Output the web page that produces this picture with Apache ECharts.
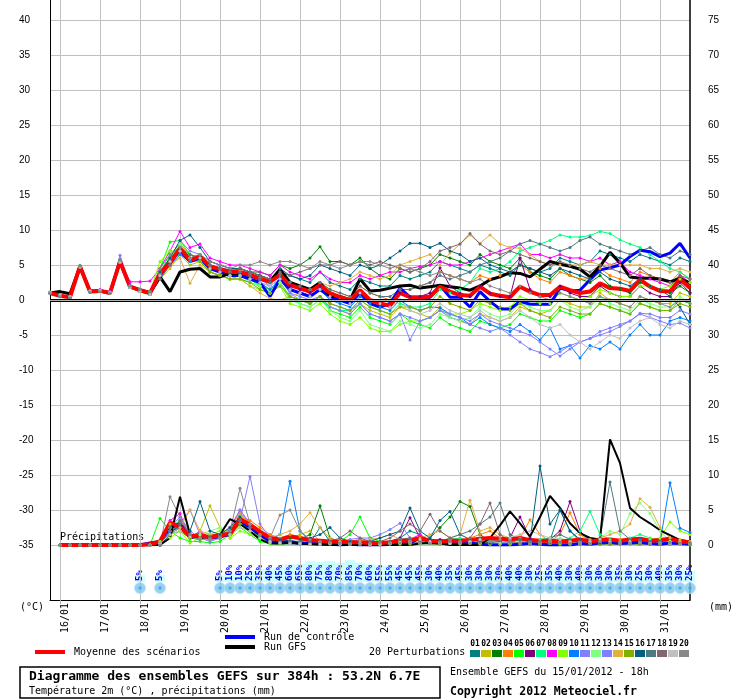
<!DOCTYPE html>
<html>
<head>
<meta charset="utf-8">
<script src="https://cdn.jsdelivr.net/npm/echarts@6/dist/echarts.min.js"></script>
<style>
html, body { margin: 0; padding: 0; background: #fff; }
#chart { width: 740px; height: 700px; }
</style>
</head>
<body>
<div id="chart"></div>
<script>
// GEFS ensemble 15/01/2012 18h, 6-hourly steps up to +384h
var dayLabels = ['16/01', '17/01', '18/01', '19/01', '20/01', '21/01', '22/01', '23/01',
    '24/01', '25/01', '26/01', '27/01', '28/01', '29/01', '30/01', '31/01'];
var hours = ['00h', '06h', '12h', '18h'];

var memberColors = ['#008080', '#c0c000', '#008000', '#ff8000', '#00ff00', '#800080', '#00ff80',
    '#ff00ff', '#80ff00', '#0080ff', '#8080ff', '#80ff80', '#8080ff', '#e0b040', '#80b000',
    '#006080', '#507880', '#806870', '#c0c0c0', '#888888'];

// temperature 2m (°C)
var tMean = [1.0,0.6,0.4,4.8,1.2,1.3,1.0,5.5,1.9,1.4,1.0, 3.8,5.3,7.4,5.7,6.2,4.8, 4.4,4.0,4.0,3.6,3.1,2.6,3.6,2.1, 1.7,1.2,2.1,1.0,0.4,0.0,1.4,0.0, -0.5,-0.8,1.0,0.4,0.4,0.5,1.9,1.2, 0.7,0.6,1.9,0.9,0.6,0.4,1.9,1.2, 0.7,0.7,1.9,1.4,1.0,1.2,2.4,1.7, 1.6,1.3,2.9,1.9,1.3,1.2,3.0,1.7];
var tCtrl = [1.0,0.6,0.4,4.8,1.2,1.3,1.0,5.5,1.9,1.4,1.0, 3.5,5.5,7.0,5.5,6.0,4.5, 4.0,3.5,3.5,3.0,2.5,0.5,3.0,1.5, 1.0,0.5,1.5,0.5,0.0,-0.5,1.0,-0.5, -1.0,-0.5,1.7,0.4,0.3,0.4,2.1,0.4, 0.4,-1.0,1.2,-0.2,-1.3,-1.3,-0.2,-0.6, -0.6,-0.6,1.7,1.3,1.4,2.9,4.3,4.6, 5.0,6.2,7.1,6.9,6.2,6.7,8.1,6.0];
var tGfs = [1.0,1.2,0.9,4.8,1.2,1.3,1.0,5.5,1.9,1.4,1.0, 3.3,1.2,4.0,4.4,4.5,3.3, 3.3,3.8,3.8,3.5,3.0,2.6,4.4,2.5, 2.0,1.5,2.5,0.5,0.5,0.0,3.0,1.3, 1.4,1.7,2.0,2.1,1.7,1.9,2.1,1.9, 1.7,1.4,2.0,2.9,3.3,3.9,3.8,3.3, 4.4,5.5,5.1,4.8,4.4,3.3,4.8,6.8, 5.3,3.3,3.1,3.1,3.0,2.6,3.1,2.4];
var t01 = [1.0,0.6,0.4,4.8,1.2,1.3,1.0,5.5,1.9,1.4,1.0, 3.5,5.0,7.0,6.0,6.5,5.0, 4.6,4.3,4.5,4.0,3.5,3.0,4.5,3.5, 3.0,2.5,4.0,2.5,2.0,1.5,3.0,2.5, 2.0,2.0,3.5,3.0,3.5,4.0,5.5,5.0, 4.5,4.0,5.0,4.5,4.0,3.5,5.0,4.5, 4.0,4.5,6.0,5.5,5.0,5.5,7.0,6.5, 6.0,5.5,6.5,6.0,5.5,5.0,6.0,5.5];
var t02 = [1.1,0.7,0.5,4.7,1.3,1.4,1.1,5.4,1.8,1.2,0.8, 3.0,4.5,6.5,5.0,5.5,4.5, 4.0,3.5,3.5,3.0,2.0,1.5,2.5,0.5, 0.0,-0.5,0.5,-1.0,-1.5,-2.0,-0.5,-1.5, -2.0,-2.5,-1.0,-1.5,-2.0,-2.5,-1.0,-2.5, -3.0,-3.5,-2.0,-2.5,-3.0,-2.5,-1.0,-1.5, -2.0,-1.5,0.0,-0.5,-1.0,-1.0,1.0,0.0, -0.5,-1.0,0.5,0.0,-0.5,-0.5,1.0,0.5];
var t03 = [1.0,0.5,0.3,4.9,1.1,1.2,1.0,5.7,2.0,1.5,1.2, 4.0,6.0,7.5,6.0,6.0,4.5, 4.5,4.0,4.5,4.0,4.0,3.5,5.0,4.5, 5.0,6.0,7.6,5.5,5.5,5.0,6.0,4.5, 3.5,3.0,4.5,4.0,4.5,5.0,6.5,6.0, 5.5,5.0,6.5,5.5,5.0,4.5,6.0,4.0, 3.5,3.0,4.5,3.5,3.0,2.5,3.5,2.0, 1.5,1.0,2.5,2.0,1.5,1.0,2.0,1.0];
var t04 = [1.0,0.6,0.4,4.8,1.2,1.3,1.0,5.6,1.9,1.4,1.0, 3.8,5.5,8.0,6.5,6.0,5.0, 4.5,4.0,4.2,3.8,3.2,2.5,3.8,2.5, 2.0,1.5,2.5,1.5,1.0,0.5,2.0,1.0, 0.5,0.0,1.5,1.5,2.0,2.5,4.0,3.5, 3.0,2.5,3.5,3.0,3.5,4.0,5.0,4.0, 3.0,2.5,4.0,3.5,3.0,3.0,4.5,3.5, 3.0,2.5,4.0,3.5,3.0,2.5,4.0,3.0];
var t05 = [1.1,0.7,0.5,4.7,1.3,1.4,1.1,5.4,1.8,1.2,0.8, 4.5,8.3,8.5,6.5,6.0,4.0, 3.5,3.0,3.0,2.5,2.0,1.5,2.5,0.5, 0.0,-0.5,0.5,-1.5,-2.0,-2.5,-1.0,-2.5, -3.0,-3.5,-2.0,-3.0,-3.5,-4.0,-2.5,-3.5, -4.0,-4.5,-3.0,-3.5,-4.0,-3.5,-2.0,-2.5, -3.0,-3.0,-1.5,-2.0,-2.5,-2.0,-0.5,-1.0, -1.5,-2.0,-0.5,-1.0,-1.5,-1.5,0.0,-0.5];
var t06 = [1.0,0.6,0.4,4.8,1.2,1.3,1.0,5.5,1.9,1.4,1.0, 3.5,5.0,7.0,5.5,6.0,4.5, 4.0,3.8,3.8,3.5,3.0,2.5,3.5,2.0, 1.5,1.0,2.0,0.5,0.0,-0.5,1.0,0.0, -0.5,-1.0,1.0,0.5,0.5,1.0,4.6,2.0, 1.0,0.5,2.0,1.0,0.5,0.5,6.0,1.5, 0.5,0.5,2.0,1.0,0.5,0.5,2.0,1.0, 0.5,0.5,2.0,1.0,0.5,0.5,2.5,1.0];
var t07 = [1.1,0.7,0.5,4.7,1.3,1.4,1.1,5.4,1.8,1.2,0.8, 4.0,6.5,8.0,6.0,5.5,4.0, 3.5,3.0,3.5,3.0,2.0,1.0,2.5,0.0, -0.5,-1.0,0.0,-1.0,-1.5,-1.5,0.0,-1.0, -1.5,-2.0,-0.5,-1.0,-1.0,-0.5,1.5,1.0, 1.5,2.5,4.5,4.0,4.5,5.5,7.0,7.5, 8.0,8.5,9.3,9.0,9.0,9.2,9.8,9.5, 8.6,8.0,7.5,6.5,5.5,4.5,4.0,3.0];
var t08 = [1.0,0.6,0.4,4.8,1.4,1.5,1.2,5.8,2.6,2.6,2.7, 4.5,7.0,9.8,7.5,8.0,6.0, 5.5,5.0,5.0,4.5,4.0,3.5,5.0,4.0, 3.5,3.0,4.0,3.0,2.5,2.5,3.5,3.0, 3.5,4.0,4.0,4.5,4.8,5.0,5.5,5.0, 5.0,5.5,6.0,6.5,7.0,7.5,8.0,6.5, 6.5,6.0,6.5,6.0,6.0,5.5,6.0,5.0, 5.5,4.0,3.5,3.0,2.5,2.0,3.5,2.5];
var t09 = [1.0,0.5,0.3,4.9,1.1,1.2,1.0,5.7,2.0,1.5,1.2, 5.5,7.0,7.0,5.5,5.5,4.0, 3.5,3.0,3.0,2.0,1.5,1.0,2.0,-0.5, -1.0,-1.5,-0.5,-2.0,-3.0,-3.5,-2.5,-4.0, -4.5,-4.5,-3.5,-3.0,-3.0,-2.5,-1.5,-2.0, -2.0,-1.5,-0.5,-1.0,-1.5,-1.0,0.5,0.0, -0.5,-0.5,1.0,0.5,0.0,0.5,1.5,1.0, 0.5,0.5,2.0,2.0,1.5,2.0,3.0,2.5];
var t10 = [1.1,0.7,0.5,4.7,1.3,1.4,1.1,5.4,1.8,1.2,0.8, 3.0,5.0,6.5,5.5,6.0,4.5, 4.0,3.5,3.5,3.0,2.5,1.5,3.0,1.5, 1.0,0.5,1.5,0.0,-0.5,-1.0,0.5,-0.5, -1.0,-1.5,0.0,-1.0,-1.5,-1.0,-1.1,-2.0, -2.5,-3.5,-2.5,-3.5,-4.0,-4.5,-3.5,-4.5, -5.7,-4.0,-7.0,-6.5,-8.3,-6.5,-7.0,-6.0, -7.0,-5.0,-3.5,-5.0,-5.0,-3.0,-2.5,-3.0];
var t11 = [1.0,0.6,0.4,4.8,1.2,1.3,1.0,6.4,2.1,1.6,1.2, 4.0,6.0,8.5,7.0,6.5,5.5, 5.0,4.5,4.0,3.5,3.0,2.0,3.0,1.0, 0.5,0.0,0.5,-0.5,-1.0,-1.5,-0.5,-2.0, -2.5,-3.0,-2.0,-5.7,-3.0,-2.5,-1.5,-2.5, -2.9,-3.5,-4.0,-4.5,-4.0,-5.0,-6.0,-7.0, -7.5,-8.1,-7.4,-6.5,-6.0,-5.5,-5.0,-4.5, -3.8,-3.0,-2.0,-2.5,-3.0,-3.5,-3.3,-4.0];
var t12 = [1.0,0.5,0.3,4.9,1.1,1.2,1.0,5.7,2.0,1.5,1.2, 4.0,6.0,8.0,6.0,6.5,5.0, 4.5,3.5,3.5,2.5,2.0,1.0,2.5,0.0, -0.5,-1.0,0.0,-1.5,-2.5,-3.0,-1.5,-3.5, -4.0,-4.5,-3.0,-3.5,-4.0,-3.5,-2.0,-2.5, -3.0,-2.5,-1.0,-2.0,-2.5,-2.0,-0.5,-1.0, -1.5,-1.5,0.0,-1.0,-1.5,-1.0,0.5,-0.5, -1.0,-1.5,0.0,-0.5,-1.0,-1.0,0.5,-0.5];
var t13 = [1.1,0.7,0.5,4.7,1.3,1.4,1.1,5.4,1.8,1.2,0.8, 3.5,5.5,7.0,6.0,6.0,4.5, 4.0,3.5,3.5,3.0,2.5,2.0,3.0,1.0, 0.0,-0.5,0.5,-1.0,-1.5,-2.0,-0.5,-2.0, -2.5,-3.0,-2.0,-2.5,-3.0,-2.5,-1.5,-2.0, -2.5,-3.0,-2.0,-3.0,-3.5,-4.0,-4.5,-5.0, -6.0,-7.0,-8.0,-7.0,-6.0,-5.5,-4.5,-4.0, -3.5,-3.0,-1.9,-2.0,-2.5,-2.5,-1.5,-2.0];
var t14 = [1.0,0.6,0.4,4.8,1.2,1.3,1.0,5.5,1.9,1.4,1.0, 3.5,5.0,6.0,2.4,5.0,4.0, 3.5,3.0,3.0,2.0,1.0,0.2,0.0,0.5, 1.0,1.5,2.5,2.0,2.5,3.0,4.0,3.5, 3.0,3.5,5.0,5.5,6.0,6.5,5.0,6.7, 8.0,9.3,8.1,9.3,8.0,7.5,7.4,6.5, 5.5,5.0,5.0,5.0,5.0,5.5,5.0,5.0, 5.0,5.0,5.0,4.5,4.5,4.0,4.5,4.0];
var t15 = [1.1,0.7,0.5,4.7,1.3,1.4,1.1,5.4,1.8,1.2,0.8, 4.0,6.0,7.5,6.0,5.5,4.0, 3.5,3.0,3.0,2.5,1.5,1.0,2.0,0.5, 0.0,-0.5,0.5,-0.5,-1.0,-1.5,0.0,-1.0, -1.5,-2.0,-1.0,-1.0,-1.5,-1.0,0.5,-0.5, -1.0,-1.5,0.0,-0.5,-1.0,-1.5,-0.5,-1.5, -2.0,-2.5,-1.0,-1.5,-2.0,-2.0,-0.5,-1.0, -1.5,-2.0,-0.5,-1.0,-1.5,-1.5,-0.5,-1.0];
var t16 = [1.0,0.5,0.3,4.9,1.1,1.2,1.0,5.7,2.0,1.5,1.2, 4.0,6.0,8.5,9.3,7.5,5.5, 5.0,4.5,4.5,4.0,3.5,3.0,4.0,3.5, 3.0,3.5,5.0,4.5,4.0,3.5,5.0,4.5, 5.0,6.0,7.0,8.1,8.1,7.5,8.1,7.0, 6.5,5.5,6.0,5.0,4.5,4.0,5.0,4.5, 4.0,3.5,4.5,4.0,3.5,3.0,4.0,3.0, 2.5,2.0,3.0,2.0,1.5,0.5,-1.0,-3.5];
var t17 = [1.1,0.7,0.5,4.7,1.3,1.4,1.1,5.4,1.8,1.2,0.8, 3.5,5.5,7.5,6.5,6.0,5.0, 4.5,4.0,4.0,3.5,3.0,2.5,3.5,2.5, 2.0,1.5,2.5,1.5,1.0,0.5,2.0,1.0, 0.5,0.5,1.5,1.5,2.0,2.5,3.5,3.0, 3.5,4.0,5.0,5.5,6.0,7.0,8.0,8.5, 8.0,7.5,7.0,7.5,8.5,9.0,8.0,7.5, 7.0,6.5,7.0,7.5,6.5,6.0,7.0,6.5];
var t18 = [1.0,0.6,0.4,4.8,1.2,1.3,1.0,5.5,1.9,1.4,1.0, 3.0,5.0,7.0,6.0,6.5,5.0, 4.5,4.0,4.5,4.0,3.5,3.0,4.0,3.5, 4.0,4.5,5.0,5.0,5.5,5.0,5.5,5.0, 5.5,5.0,4.5,4.0,4.5,5.5,7.0,7.5, 8.0,9.5,8.0,7.0,6.5,7.0,6.5,6.0, 5.5,5.0,5.5,5.0,4.5,4.0,5.0,4.5, 4.0,3.5,4.5,3.5,3.0,2.5,3.5,3.0];
var t19 = [1.1,0.7,0.5,4.7,1.3,1.4,1.1,5.4,1.8,1.2,0.8, 3.5,5.5,7.0,6.0,6.0,4.5, 4.0,3.5,3.5,3.0,2.5,2.0,3.0,1.5, 1.0,0.5,1.5,0.5,0.0,-0.5,1.0,0.0, -0.5,-1.0,0.0,-1.5,-2.0,-1.5,-0.5,-1.5, -2.0,-2.5,-1.5,-2.5,-3.0,-2.5,-1.5,-2.5, -3.5,-4.0,-3.5,-5.0,-6.0,-7.0,-6.0,-5.0, -5.5,-4.0,-3.0,-2.5,-3.5,-4.0,-3.0,-3.5];
var t20 = [1.0,0.5,0.3,4.9,1.1,1.2,1.0,5.7,2.0,1.5,1.2, 4.5,6.5,7.5,6.0,6.5,5.5, 5.0,4.5,5.0,5.0,5.5,5.0,5.5,5.5, 5.0,4.5,5.5,5.0,4.5,5.0,5.5,5.5, 5.0,4.5,5.0,4.5,4.0,3.5,4.0,3.5, 3.0,2.5,3.0,2.0,1.5,1.0,2.0,1.0, 0.5,0.0,1.0,0.5,0.0,-0.5,0.5,0.0, -0.5,-1.0,0.5,0.0,-0.5,-1.0,0.0,-0.5];

// precipitation (mm per 6h)
var pMean = [null,0,0,0,0,0,0,0,0,0,0.1, 0.5,3.2,2.6,1.2,1.4,1.1, 1.4,1.6,3.7,2.9,1.9,1.0,0.8,1.2, 1.0,0.7,0.6,0.5,0.5,0.4,0.4,0.3, 0.3,0.4,0.6,0.6,1.0,0.6,0.5,0.6, 0.6,0.7,0.9,1.0,0.9,0.8,1.0,0.7, 0.6,0.6,0.5,0.6,0.8,0.5,0.7,0.8, 0.6,0.8,0.9,0.6,0.7,0.9,0.5,0.4];
var pCtrl = [null,0,0,0,0,0,0,0,0,0,0.3, 0.5,2.5,3.0,1.0,1.5,1.0, 1.2,1.5,3.5,2.5,1.5,0.5,0.3,0.5, 0.2,0.2,0.1,0.1,0,0.1,0,0, 0,0.1,0.2,0.3,1.0,0.5,0.3,0.2, 0.2,0.3,0.1,0,0,0,0.1,0.2, 0.1,0,0,0,0.2,0.1,0.3,0.4, 0.2,0.3,0.4,0.2,0.1,0.3,0.2,0.1];
var pGfs = [null,0,0,0,0,0,0,0,0,0,0, 0,1.0,6.9,1.5,1.0,1.2, 1.5,3.7,3.0,2.0,0.8,0.2,0.2,0.3, 0.2,0.1,0.1,0,0,0,0,0, 0,0,0,0,0.2,0.3,0.2,0, 0,0,0,1.0,2.8,4.8,3.1,1.2, 4.0,7.0,5.3,3.1,1.7,1.0,0.8,15.1, 11.7,5.3,4.0,3.1,2.1,1.4,0.7,0.5];
var p01 = [null,0,0,0,0,0,0,0,0,0,0, 0,2.0,2.5,1.0,1.5,0.8, 1.0,1.5,4.5,3.0,1.5,0.5,0.3,0.6, 0.5,0.3,2.5,0.5,0.2,0.2,0.3,0.1, 0.2,0.5,1.0,2.0,1.5,0.5,0.3,0.5, 0.8,0.5,1.0,0.6,0.5,0.4,0.8,0.5, 0.4,0.6,5.0,2.0,0.5,0.3,0.6,0.5, 0.4,0.6,0.8,0.5,0.3,0.6,0.4,0.2];
var p02 = [null,0,0,0,0,0,0,0,0,0,0, 0.2,3.0,2.0,1.0,2.0,5.6, 2.5,1.0,3.0,2.0,1.0,0.5,0.3,0.8, 1.5,2.0,0.5,0.3,0.2,0.1,0.1,0, 0,0.1,0.2,0.5,0.8,0.3,0.2,0.5, 0.3,0.8,0.5,0.3,0.2,0.5,0.3,0.2, 0.2,0.5,0.3,0.2,0.1,0.3,0.2,0.1, 0.2,0.3,0.5,0.3,0.6,0.5,0.3,0.2];
var p03 = [null,0,0,0,0,0,0,0,0,0,0, 0,1.5,3.5,1.5,1.0,1.2, 1.0,2.0,3.0,2.5,1.0,0.8,0.5,1.0, 0.8,1.5,5.6,1.0,0.5,0.3,0.2,0.1, 0.1,0.2,0.3,0.5,0.8,1.0,2.5,4.0, 6.2,5.5,1.5,0.5,0.3,0.2,0.3,0.2, 0.1,0.2,0.3,0.5,0.3,0.2,0.1,0.2, 0.3,0.2,0.1,0.2,0.3,0.2,0.1,0.1];
var p04 = [null,0,0,0,0,0,0,0,0,0,0, 0.3,2.5,3.0,1.5,1.0,1.5, 1.5,2.0,4.0,3.5,2.5,1.5,1.0,1.5, 1.2,0.8,0.5,0.3,0.2,0.1,0.1,0.2, 0.3,0.5,0.8,1.0,0.5,0.3,0.5,0.8, 0.5,1.0,1.5,2.0,1.0,0.5,1.0,3.6, 1.5,0.5,1.5,4.6,1.5,0.5,0.3,0.5, 0.8,0.5,0.3,0.5,0.3,0.2,0.5,0.3];
var p05 = [null,0,0,0,0,0,0,0,0,0,0, 3.8,2.0,1.0,0.5,0.5,0.3, 0.5,1.5,2.5,1.5,0.5,0.2,0.1,0.2, 0.1,0.1,0.2,0.3,0.5,1.5,4.0,1.0, 0.5,0.3,0.2,0.1,0.2,0.3,0.5,0.3, 0.2,0.3,0.5,0.3,0.2,0.1,0.2,0.1, 0.1,0.2,0.1,0.2,0.3,0.2,0.1,0.1, 0.1,0.2,0.1,0.1,0.2,0.1,0.1,0];
var p06 = [null,0,0,0,0,0,0,0,0,0,0, 0,1.5,2.5,1.5,1.0,1.0, 1.0,1.5,3.5,2.0,1.0,0.5,0.3,0.5, 0.3,0.5,0.3,0.2,0.1,0.2,0.1,0.1, 0.2,0.5,1.0,3.9,1.0,0.5,0.8,0.5, 0.3,0.5,0.8,0.5,0.5,1.0,4.0,1.0, 0.5,0.8,2.0,6.2,2.0,0.5,0.3,0.5, 0.3,0.5,0.3,0.2,0.5,0.3,0.2,0.1];
var p07 = [null,0,0,0,0,0,0,0,0,0,0, 0.5,2.5,3.5,1.5,1.0,1.5, 1.5,2.5,4.0,2.0,1.0,0.5,0.3,0.3, 0.2,0.1,0.2,0.3,0.2,0.1,0.2,0.1, 0.1,0.2,0.3,0.5,0.3,0.2,0.5,0.8, 1.0,0.5,0.8,0.5,0.3,0.8,0.5,0.5, 0.8,1.0,0.5,1.0,2.0,4.8,1.5,0.8, 0.5,1.0,1.5,1.0,0.5,0.3,0.5,0.3];
var p08 = [null,0,0,0,0,0,0,0,0,0,0, 0.2,3.5,4.5,1.0,2.0,1.0, 1.0,2.5,5.0,3.0,1.5,0.5,0.2,0.3, 0.2,0.1,0.1,0.2,0.1,0.1,0.1,0, 0.1,0.2,0.5,0.8,1.5,0.5,0.3,0.5, 0.3,0.5,0.3,0.2,0.1,0.2,0.3,0.2, 0.1,0.2,0.3,0.2,0.1,0.3,0.2,0.1, 0.2,0.3,0.2,0.1,0.2,0.1,0.1,0.1];
var p09 = [null,0,0,0,0,0,0,0,0,0,0, 0.5,1.0,2.0,0.3,1.0,1.5, 2.0,1.0,2.0,1.5,1.0,0.3,0.1,0.5, 0.3,0.2,0.3,0.2,0.1,0.1,0.2,0.1, 0.1,0.2,0.3,0.5,0.3,0.2,0.1,0.2, 0.3,0.5,0.3,0.2,0.1,0.2,0.3,0.2, 0.1,0.2,0.1,0.2,0.3,0.2,0.5,0.3, 0.2,0.3,0.5,0.8,1.0,3.3,2.0,1.5];
var p10 = [null,0,0,0,0,0,0,0,0,0,0, 0,2.0,2.5,1.0,0.8,1.0, 1.0,2.0,3.0,2.5,1.5,0.8,1.5,9.1, 2.0,0.5,0.3,0.2,0.1,0.1,0.2,0.1, 0.1,0.2,0.3,0.5,0.3,0.2,0.3,0.2, 0.2,0.3,0.2,0.1,0.2,0.3,0.2,0.1, 0.1,0.2,0.3,0.2,0.1,0.2,0.3,0.2, 0.3,0.5,0.8,0.5,0.3,8.9,2.4,1.8];
var p11 = [null,0,0,0,0,0,0,0,0,0,0, 0,2.0,3.0,5.0,1.5,1.0, 1.5,2.0,3.5,9.8,3.0,1.0,0.5,0.5, 0.3,0.2,0.3,0.5,0.5,0.8,1.0,1.0, 1.5,2.2,3.1,1.0,0.5,0.3,0.2,0.3, 0.2,0.3,0.2,0.1,0.2,0.1,0.1,0.2, 0.3,0.2,0.1,0.2,0.1,0.1,0.2,0.1, 0.1,0.2,0.3,0.2,0.1,0.1,0.2,0.1];
var p12 = [null,0,0,0,0,0,0,0,0,0,0, 0.3,1.5,2.0,1.0,1.5,2.0, 2.5,1.5,2.5,2.0,1.0,0.5,0.3,0.5, 0.3,0.2,0.1,0.2,0.3,0.2,0.1,0.1, 0.2,0.3,0.5,0.3,0.2,0.1,0.2,0.3, 0.5,0.3,0.2,0.3,0.5,0.3,0.2,0.5, 0.3,0.5,1.0,0.5,0.3,0.5,1.0,2.0, 1.5,4.5,6.0,4.5,2.0,0.5,0.3,0.2];
var p13 = [null,0,0,0,0,0,0,0,0,0,0, 0,2.5,4.0,2.0,1.0,0.5, 1.0,2.0,5.0,3.0,1.5,0.5,0.3,0.2, 0.1,0.2,0.1,0.2,0.3,0.5,0.8,0.5, 0.3,0.2,0.1,0.2,0.3,0.2,0.1,0.2, 0.3,0.2,0.1,0.3,0.5,0.3,0.2,0.1, 0.2,0.3,0.2,0.1,0.2,0.3,0.2,0.1, 0.2,0.1,0.2,0.3,0.2,0.1,0.2,0.1];
var p14 = [null,0,0,0,0,0,0,0,0,0,0, 0.2,1.5,2.5,5.0,2.0,1.5, 1.5,2.5,4.5,3.0,1.5,1.0,1.5,2.0, 3.0,4.6,2.5,1.0,0.5,0.3,0.5,0.8, 1.0,1.5,0.8,0.5,1.0,1.5,2.0,1.0, 1.5,6.4,2.0,2.5,1.5,1.0,0.8,0.5, 0.5,0.8,0.5,0.3,0.5,0.8,1.0,1.5, 2.0,3.0,6.6,5.4,2.5,1.0,0.8,0.5];
var p15 = [null,0,0,0,0,0,0,0,0,0,0, 0.2,1.5,2.0,1.0,0.8,1.0, 1.2,1.5,3.0,2.0,1.0,0.5,0.2,0.3, 0.2,0.1,0.2,0.1,0.2,0.1,0.1,0.1, 0.1,0.2,0.1,0.2,0.3,0.2,0.1,0.2, 0.1,0.2,0.1,0.1,0.2,0.1,0.2,0.1, 0.1,0.2,0.1,0.1,0.1,0.2,0.1,0.1, 0.1,0.2,0.1,0.2,0.1,0.1,0.2,0.1];
var p16 = [null,0,0,0,0,0,0,0,0,0,0, 0,1.5,3.0,2.0,6.2,2.0, 1.5,2.5,4.0,2.5,1.5,1.0,0.8,0.5, 0.5,1.0,1.5,2.5,1.0,0.5,0.3,0.5, 1.0,1.5,2.0,5.3,2.0,1.0,3.5,4.8, 1.5,0.8,0.5,0.3,0.5,1.0,0.8,0.5, 11.3,3.0,5.0,2.0,0.8,0.5,0.3,0.5, 0.3,0.5,0.3,0.2,0.5,0.3,0.2,0.1];
var p17 = [null,0,0,0,0,0,0,0,0,0,0, 0.3,2.5,3.0,1.5,1.0,1.2, 1.2,1.8,3.5,2.5,1.2,0.5,0.3,0.3, 0.2,0.2,0.3,0.5,0.3,0.2,0.1,0.2, 0.3,0.5,0.8,1.0,0.5,0.3,0.5,1.0, 1.5,2.0,3.0,4.0,6.0,1.5,0.8,0.5, 0.5,1.0,1.5,0.8,0.5,0.5,1.0,9.0, 2.0,0.8,0.5,0.3,0.5,0.3,0.2,0.3];
var p18 = [null,0,0,0,0,0,0,0,0,0,0, 0,2.0,3.5,1.5,1.0,0.8, 1.0,2.0,3.5,2.5,1.5,0.5,0.3,0.5, 0.5,0.3,0.2,0.5,1.0,2.0,1.0,0.5, 0.5,1.0,2.0,3.0,2.0,4.4,2.0,1.0, 0.5,1.0,3.0,6.0,1.5,0.5,0.3,0.2, 0.2,0.3,0.5,0.3,0.2,0.3,0.5,0.3, 0.2,0.3,0.2,0.1,0.2,0.3,0.2,0.1];
var p19 = [null,0,0,0,0,0,0,0,0,0,0, 0.2,1.5,2.0,1.2,1.0,0.8, 1.0,1.5,2.5,2.0,1.0,0.5,0.3,0.2, 0.2,0.1,0.1,0.2,0.1,0.1,0.2,0.1, 0.1,0.2,0.3,0.5,0.8,0.5,0.3,0.2, 0.3,0.5,0.8,0.5,0.3,1.0,1.5,2.0, 1.5,1.0,0.8,0.5,0.3,0.5,0.8,0.5, 0.3,0.5,0.3,0.2,0.3,0.2,0.1,0.1];
var p20 = [null,0,0,0,0,0,0,0,0,0,0, 0,6.9,4.0,1.5,1.0,0.8, 1.0,2.0,8.1,3.0,1.5,1.0,4.3,5.0, 2.0,0.8,0.5,0.3,0.2,0.1,0.1,0.2, 0.3,0.2,0.3,0.5,0.3,0.2,0.3,0.5, 0.3,0.2,0.3,0.5,0.8,0.5,0.3,0.2, 0.3,0.5,0.3,0.2,0.3,0.2,0.5,0.3, 0.2,0.3,0.2,0.1,0.2,0.3,0.2,0.1];

// snow probability (%) per step
var snowPct = [null,null,null,null,null,null,null,null,null,5,null,5,null,null,null,null,null,
    5,10,10,25,35,40,45,60, 65,80,75,80,70,85,70,60, 55,55,45,45,45,30,40,35,
    45,30,30,30,30,40,40,30, 25,35,40,30,40,30,30,30, 35,30,25,30,40,35,30,25];

var tMembers = [t01, t02, t03, t04, t05, t06, t07, t08, t09, t10, t11, t12, t13, t14, t15, t16, t17, t18, t19, t20];
var pMembers = [p01, p02, p03, p04, p05, p06, p07, p08, p09, p10, p11, p12, p13, p14, p15, p16, p17, p18, p19, p20];

var categories = ['15/01 18h'];
dayLabels.forEach(function (d) {
    hours.forEach(function (h) { categories.push(d + ' ' + h); });
});

var mono = '"DejaVu Sans Mono", monospace';
var snowBandFloor = 35; // the probability band never collapses below this height
function dayTick(index) { return (index - 1) % 4 === 0; }

function hiddenX(grid) {
    return { type: 'category', gridIndex: grid, data: categories, boundaryGap: false, show: false };
}

function memberLine(data, color, yIdx) {
    return {
        type: 'line', xAxisIndex: 1, yAxisIndex: yIdx, data: data,
        symbol: 'circle', symbolSize: 3, showAllSymbol: true,
        lineStyle: { width: 1, color: color },
        itemStyle: { color: color },
        silent: true
    };
}

function thickLine(data, color, width, yIdx) {
    return {
        type: 'line', xAxisIndex: 1, yAxisIndex: yIdx, data: data,
        showSymbol: false, lineStyle: { width: width, color: color },
        itemStyle: { color: color }, silent: true
    };
}

var series = [];
tMembers.forEach(function (d, k) { series.push(memberLine(d, memberColors[k], 2)); });
pMembers.forEach(function (d, k) { series.push(memberLine(d, memberColors[k], 3)); });
series[0].markLine = {
    silent: true, symbol: 'none', animation: false, label: { show: false },
    data: [
        { yAxis: 0, lineStyle: { color: '#000', width: 3, type: 'solid' } },
        { yAxis: 0, lineStyle: { color: '#b0b0b0', width: 1, type: 'solid' } }
    ]
};
series.push(thickLine(tCtrl, '#0000ff', 3, 2));
series.push(thickLine(pCtrl, '#0000ff', 3, 3));
series.push(thickLine(tGfs, '#000000', 3, 2));
series.push(thickLine(pGfs, '#000000', 2, 3));
series.push(thickLine(tMean, '#ff0000', 4, 2));
series.push(thickLine(pMean, '#ff0000', 4, 3));

// snow probability band + labels
series.push({
    type: 'bar', xAxisIndex: 2, yAxisIndex: 4, stack: 'snow', barWidth: 10, z: 1, silent: true,
    data: snowPct.map(function (v) { return v == null ? '-' : snowBandFloor; }),
    itemStyle: { color: '#c8ffff' },
    label: {
        show: true, position: 'insideBottom', rotate: 90, align: 'left', verticalAlign: 'middle',
        distance: 1, color: '#0000ff', fontFamily: mono, fontSize: 9, fontWeight: 'bold',
        formatter: function (p) { return snowPct[p.dataIndex] + '%'; }
    }
});
series.push({
    type: 'bar', xAxisIndex: 2, yAxisIndex: 4, stack: 'snow', barWidth: 10, z: 1, silent: true,
    data: snowPct, itemStyle: { color: '#c8ffff' }
});
series.push({
    type: 'scatter', xAxisIndex: 3, yAxisIndex: 5, symbol: 'circle', symbolSize: 11, silent: true,
    data: snowPct.map(function (v) { return v == null ? '-' : 0.5; }),
    itemStyle: { color: '#7cc6ee', borderColor: '#b8e4fb', borderWidth: 1 }
});
series.push({
    type: 'scatter', xAxisIndex: 3, yAxisIndex: 5, symbol: 'diamond', symbolSize: 4, silent: true,
    data: snowPct.map(function (v) { return v == null ? '-' : 0.5; }),
    itemStyle: { color: '#3f9fdc' }
});

var graphic = [
    { type: 'text', style: { x: 60, y: 537, text: 'Précipitations', font: '10px ' + mono, fill: '#000', verticalAlign: 'middle' } },
    { type: 'text', style: { x: 20, y: 607, text: '(°C)', font: '10px ' + mono, fill: '#000', verticalAlign: 'middle' } },
    { type: 'text', style: { x: 709, y: 607, text: '(mm)', font: '10px ' + mono, fill: '#000', verticalAlign: 'middle' } },
    { type: 'rect', shape: { x: 225, y: 635, width: 30, height: 4 }, style: { fill: '#0000ff' } },
    { type: 'text', style: { x: 264, y: 637, text: 'Run de contrôle', font: '10px ' + mono, fill: '#000', verticalAlign: 'middle' } },
    { type: 'rect', shape: { x: 225, y: 645, width: 30, height: 4 }, style: { fill: '#000' } },
    { type: 'text', style: { x: 264, y: 647, text: 'Run GFS', font: '10px ' + mono, fill: '#000', verticalAlign: 'middle' } },
    { type: 'rect', shape: { x: 35, y: 650, width: 30, height: 4 }, style: { fill: '#ff0000' } },
    { type: 'text', style: { x: 74, y: 652, text: 'Moyenne des scénarios', font: '10px ' + mono, fill: '#000', verticalAlign: 'middle' } },
    { type: 'text', style: { x: 369, y: 652, text: '20 Perturbations', font: '10px ' + mono, fill: '#000', verticalAlign: 'middle' } },
    { type: 'rect', shape: { x: 20, y: 667, width: 420, height: 31 }, style: { fill: 'none', stroke: '#000', lineWidth: 1.5 } },
    { type: 'text', style: { x: 29, y: 677, text: 'Diagramme des ensembles GEFS sur 384h : 53.2N 6.7E', font: 'bold 13px ' + mono, fill: '#000', verticalAlign: 'middle' } },
    { type: 'text', style: { x: 29, y: 691, text: 'Température 2m (°C) , précipitations (mm)', font: '10px ' + mono, fill: '#000', verticalAlign: 'middle' } },
    { type: 'text', style: { x: 450, y: 672, text: 'Ensemble GEFS du 15/01/2012 - 18h', font: '10px ' + mono, fill: '#000', verticalAlign: 'middle' } },
    { type: 'text', style: { x: 450, y: 692, text: 'Copyright 2012 Meteociel.fr', font: 'bold 11.5px ' + mono, fill: '#000', verticalAlign: 'middle' } }
];
memberColors.forEach(function (c, k) {
    var num = (k < 9 ? '0' : '') + (k + 1);
    graphic.push({ type: 'rect', shape: { x: 470 + 11 * k, y: 650, width: 10, height: 7 }, style: { fill: c } });
    graphic.push({ type: 'text', style: { x: 475 + 11 * k, y: 644, text: num, font: 'bold 8px ' + mono, fill: '#000', align: 'center', verticalAlign: 'middle' } });
});

var option = {
    backgroundColor: '#fff',
    animation: false,
    grid: [
        { left: 50, width: 640, top: 0, height: 600 },
        { left: 50, width: 640, top: 20, height: 525 },
        { left: 50, width: 640, top: 556, height: 26 },
        { left: 50, width: 640, top: 582, height: 12 }
    ],
    xAxis: [
        {
            type: 'category', gridIndex: 0, data: categories, boundaryGap: false,
            axisLine: { lineStyle: { color: '#000', width: 1 } },
            axisTick: { interval: dayTick, length: 4, lineStyle: { color: '#b0b0b0' } },
            axisLabel: {
                interval: dayTick, rotate: 90, margin: 3, verticalAlign: 'top',
                fontFamily: mono, fontSize: 10, color: '#000',
                formatter: function (v) { return v.slice(0, 5); }
            },
            splitLine: { show: true, interval: dayTick, lineStyle: { color: '#c0c0c0', width: 1 } }
        },
        hiddenX(1),
        {
            type: 'category', gridIndex: 2, data: categories, boundaryGap: false, z: 2,
            axisLine: { show: false }, axisTick: { show: false }, axisLabel: { show: false },
            splitLine: { show: true, interval: dayTick, lineStyle: { color: '#c0c0c0', width: 1 } }
        },
        hiddenX(3)
    ],
    yAxis: [
        {
            type: 'value', gridIndex: 0, min: 0, max: 1, position: 'left',
            axisLine: { show: true, lineStyle: { color: '#000' } },
            axisTick: { show: false }, axisLabel: { show: false }, splitLine: { show: false }
        },
        {
            type: 'value', gridIndex: 0, min: 0, max: 1, position: 'right',
            axisLine: { show: true, lineStyle: { color: '#000', width: 1.5 } },
            axisTick: { show: false }, axisLabel: { show: false }, splitLine: { show: false }
        },
        {
            type: 'value', gridIndex: 1, min: -35, max: 40, interval: 5, position: 'left',
            axisLine: { show: false }, axisTick: { show: false },
            axisLabel: { margin: 31, align: 'left', padding: [6, 0, 0, 0], fontFamily: '"Liberation Sans", Arial, sans-serif', fontSize: 10, color: '#000' },
            splitLine: { lineStyle: { color: '#c0c0c0', width: 1 } }
        },
        {
            type: 'value', gridIndex: 1, min: 0, max: 75, interval: 5, position: 'right',
            axisLine: { show: false }, axisTick: { show: false },
            axisLabel: { margin: 18, align: 'left', padding: [6, 0, 0, 0], fontFamily: '"Liberation Sans", Arial, sans-serif', fontSize: 10, color: '#000' },
            splitLine: { show: false }
        },
        { type: 'value', gridIndex: 2, min: 0, max: 142, show: false },
        { type: 'value', gridIndex: 3, min: 0, max: 1, show: false }
    ],
    graphic: graphic,
    series: series
};

var myChart = echarts.init(document.getElementById('chart'));
myChart.setOption(option);
</script>
</body>
</html>
